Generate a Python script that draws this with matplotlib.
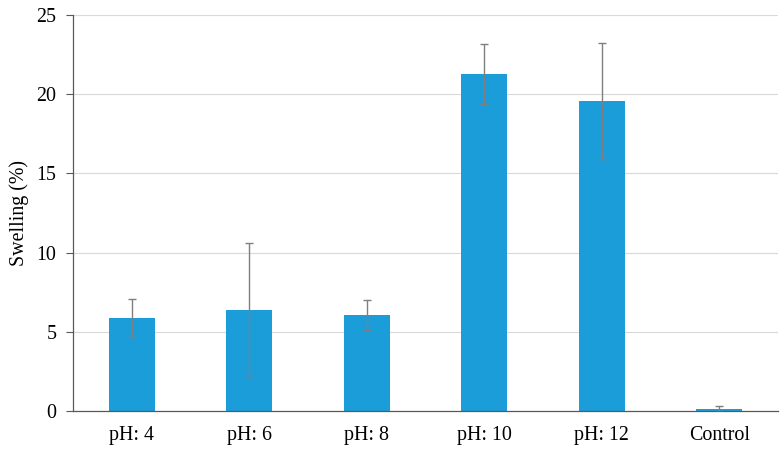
import matplotlib
matplotlib.use("Agg")
import matplotlib.pyplot as plt
import numpy as np

categories = ["pH: 4", "pH: 6", "pH: 8", "pH: 10", "pH: 12", "Control"]
swelling = [5.87, 6.38, 6.05, 21.25, 19.56, 0.12]
errors = [1.18, 4.25, 0.96, 1.90, 3.68, 0.20]
yticks = [0, 5, 10, 15, 20, 25]

plt.rcParams['font.family'] = ['Liberation Serif', 'DejaVu Serif']

fig = plt.figure(figsize=(7.83, 4.54), dpi=100)
ax = fig.add_axes([73/783, 1 - 411/454, (778-73)/783, (411-15)/454])

x = np.arange(len(categories))
ax.bar(x, swelling, width=0.39, color="#1B9DD9", zorder=2)
ax.errorbar(x, swelling, yerr=errors, fmt="none", ecolor="#7F7F7F",
            elinewidth=1.0, capsize=3, capthick=1.0, zorder=3)

ax.set_xlim(-0.5, len(categories) - 0.5)
ax.set_ylim(0, 25)
ax.set_yticks(yticks)
ax.set_xticks(x)
ax.set_xticklabels(categories, fontsize=14.4)
ax.tick_params(axis='y', labelsize=14.4, length=5, color="#595959", width=0.8, pad=7)
ax.tick_params(axis='x', length=0, pad=11)
ax.yaxis.grid(True, color="#D9D9D9", linewidth=0.8, zorder=0)
ax.set_axisbelow(True)
for s in ["top", "right"]:
    ax.spines[s].set_visible(False)
for s in ["left", "bottom"]:
    ax.spines[s].set_color("#595959")
    ax.spines[s].set_linewidth(0.9)
ax.set_ylabel("Swelling (%)", fontsize=14.4, labelpad=5)

fig.savefig("out.png", dpi=100)
